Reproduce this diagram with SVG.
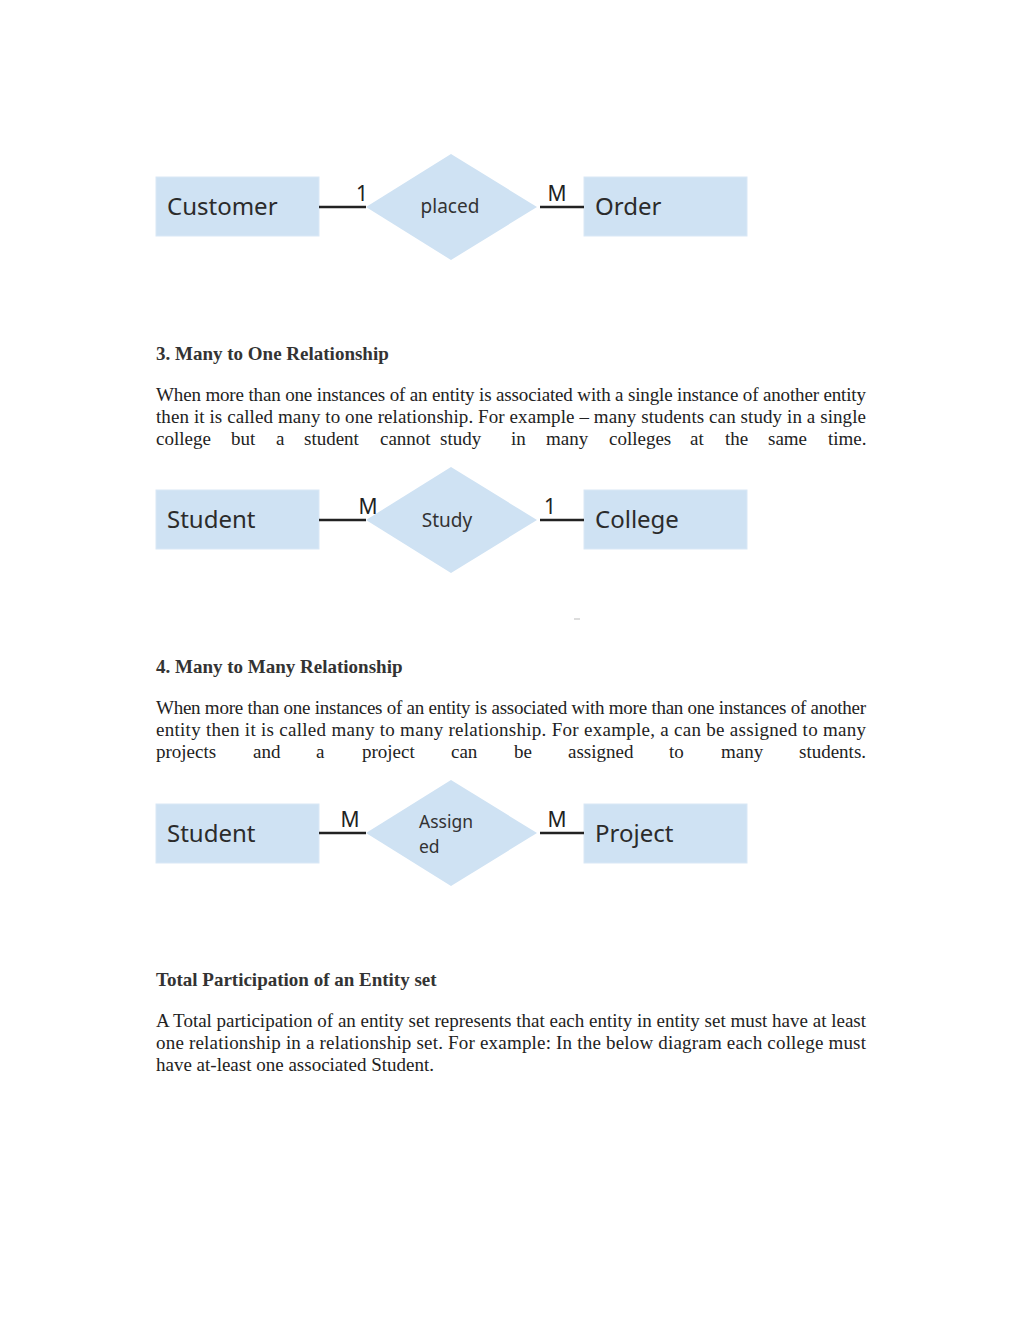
<svg xmlns="http://www.w3.org/2000/svg" width="1024" height="1325" viewBox="0 0 1024 1325">
<style>
.ent{fill:#cfe2f3;stroke:#d9e8f6;stroke-width:1}
.rel{fill:#cfe2f3}
.et{font-family:"Noto Sans","Open Sans",sans-serif;font-size:24px;fill:#2b2b2b}
.rt{font-family:"Noto Sans","Open Sans",sans-serif;font-size:19px;fill:#333}
.rs{font-family:"Noto Sans","Open Sans",sans-serif;font-size:17.5px;fill:#333}
.card{font-family:"Noto Sans","Open Sans",sans-serif;font-size:21px;fill:#222}
.ln{stroke:#222;stroke-width:2.5;fill:none}
.h{font-family:"Liberation Serif","Times New Roman",serif;font-size:19px;font-weight:bold;fill:#333}
.p{font-family:"Liberation Serif","Times New Roman",serif;font-size:19px;fill:#222}
</style>
<rect width="1024" height="1325" fill="#fff"/>

<!-- Diagram 1 -->
<g id="customer"><rect class="ent" x="156" y="177" width="163" height="59"/><text class="et" x="167" y="215">Customer</text></g>
<g id="placed"><polygon class="rel" points="451,154 537,207 451,260 366,207"/><text class="rt" x="450" y="213" text-anchor="middle">placed</text></g>
<g id="order"><rect class="ent" x="584" y="177" width="163" height="59"/><text class="et" x="595" y="215">Order</text></g>
<g id="connectors1">
<line class="ln" x1="319" y1="207" x2="366" y2="207"/>
<line class="ln" x1="540" y1="207" x2="584" y2="207"/>
<text class="card" x="362" y="201" text-anchor="middle">1</text>
<text class="card" x="557" y="201" text-anchor="middle">M</text>
</g>

<text class="h" x="156" y="360">3. Many to One Relationship</text>
<text class="p" x="156" y="401" textLength="710" lengthAdjust="spacing">When more than one instances of an entity is associated with a single instance of another entity</text>
<text class="p" x="156" y="423" textLength="710" lengthAdjust="spacing">then it is called many to one relationship. For example – many students can study in a single</text>
<g>
<text class="p" x="156" y="445">college</text><text class="p" x="231" y="445">but</text><text class="p" x="276" y="445">a</text><text class="p" x="304" y="445">student</text><text class="p" x="380" y="445">cannot</text><text class="p" x="440" y="445">study</text><text class="p" x="511" y="445">in</text><text class="p" x="546" y="445">many</text><text class="p" x="609" y="445">colleges</text><text class="p" x="690" y="445">at</text><text class="p" x="725" y="445">the</text><text class="p" x="768" y="445">same</text><text class="p" x="828" y="445">time.</text>
</g>

<!-- Diagram 2 -->
<g id="student1"><rect class="ent" x="156" y="490" width="163" height="59"/><text class="et" x="167" y="528">Student</text></g>
<g id="study"><polygon class="rel" points="451,467 537,520 451,573 366,520"/><text class="rt" x="447" y="527" text-anchor="middle">Study</text></g>
<g id="college"><rect class="ent" x="584" y="490" width="163" height="59"/><text class="et" x="595" y="528">College</text></g>
<g id="connectors2">
<line class="ln" x1="319" y1="520" x2="366" y2="520"/>
<line class="ln" x1="540" y1="520" x2="584" y2="520"/>
<text class="card" x="368" y="514" text-anchor="middle">M</text>
<text class="card" x="550" y="514" text-anchor="middle">1</text>
</g>
<line x1="574" y1="619" x2="580" y2="619" stroke="#bbb" stroke-width="1"/>

<text class="h" x="156" y="673">4. Many to Many Relationship</text>
<text class="p" x="156" y="714" textLength="710" lengthAdjust="spacing">When more than one instances of an entity is associated with more than one instances of another</text>
<text class="p" x="156" y="736" textLength="710" lengthAdjust="spacing">entity then it is called many to many relationship. For example, a can be assigned to many</text>
<g>
<text class="p" x="156" y="758">projects</text><text class="p" x="253" y="758">and</text><text class="p" x="316" y="758">a</text><text class="p" x="362" y="758">project</text><text class="p" x="451" y="758">can</text><text class="p" x="514" y="758">be</text><text class="p" x="568" y="758">assigned</text><text class="p" x="669" y="758">to</text><text class="p" x="721" y="758">many</text><text class="p" x="799" y="758">students.</text>
</g>

<!-- Diagram 3 -->
<g id="student2"><rect class="ent" x="156" y="804" width="163" height="59"/><text class="et" x="167" y="842">Student</text></g>
<g id="assigned"><polygon class="rel" points="451,780 537,833 451,886 366,833"/><text class="rs" x="419" y="828">Assign</text><text class="rs" x="419" y="853">ed</text></g>
<g id="project"><rect class="ent" x="584" y="804" width="163" height="59"/><text class="et" x="595" y="842">Project</text></g>
<g id="connectors3">
<line class="ln" x1="319" y1="833" x2="366" y2="833"/>
<line class="ln" x1="540" y1="833" x2="584" y2="833"/>
<text class="card" x="350" y="827" text-anchor="middle">M</text>
<text class="card" x="557" y="827" text-anchor="middle">M</text>
</g>

<text class="h" x="156" y="986">Total Participation of an Entity set</text>
<text class="p" x="156" y="1027" textLength="710" lengthAdjust="spacing">A Total participation of an entity set represents that each entity in entity set must have at least</text>
<text class="p" x="156" y="1049" textLength="710" lengthAdjust="spacing">one relationship in a relationship set. For example: In the below diagram each college must</text>
<text class="p" x="156" y="1071">have at-least one associated Student.</text>
</svg>
